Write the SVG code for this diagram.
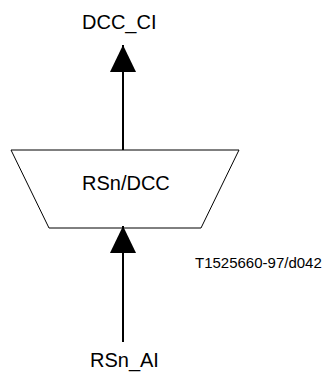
<svg xmlns="http://www.w3.org/2000/svg" width="326" height="372" viewBox="0 0 326 372">
<style>
text{font-family:"Liberation Sans",Arial,sans-serif;fill:#000}
.lbl{font-size:20px}
.note{font-size:15px}
.ln{stroke:#000;stroke-width:2;fill:none}
</style>
<defs>
<marker id="ah" markerUnits="userSpaceOnUse" markerWidth="27" markerHeight="28" refX="28" refY="13.5" orient="auto" viewBox="0 0 28 27">
<path d="M0,0 L28,13.5 L0,27 Z" fill="#000"/>
</marker>
</defs>
<rect width="326" height="372" fill="#fff"/>
<g id="connectors">
<line class="ln" x1="123" y1="150" x2="123" y2="45" marker-end="url(#ah)"/>
<line class="ln" x1="123" y1="342" x2="123" y2="226" marker-end="url(#ah)"/>
</g>
<g id="node-rsn-dcc">
<polygon points="11,150 239,150 201,228 49,228" fill="none" stroke="#000" stroke-width="1"/>
<text class="lbl" x="82" y="190">RSn/DCC</text>
</g>
<g id="label-dcc-ci">
<text class="lbl" x="82" y="29">DCC_CI</text>
</g>
<g id="label-rsn-ai">
<text class="lbl" x="90" y="367">RSn_AI</text>
</g>
<g id="label-ref">
<text class="note" x="195" y="268">T1525660-97/d042</text>
</g>
</svg>
